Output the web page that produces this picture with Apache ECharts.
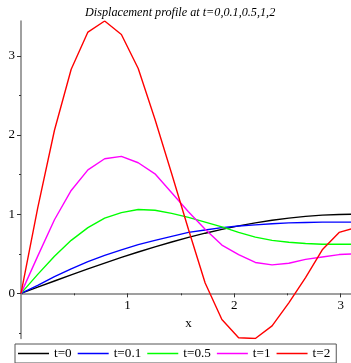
<!DOCTYPE html>
<html>
<head>
<meta charset="utf-8">
<script src="https://cdn.jsdelivr.net/npm/echarts@6/dist/echarts.min.js"></script>
<style>html,body{margin:0;padding:0;background:#fff;}#c{width:351px;height:363px;}</style>
</head>
<body>
<div id="c"></div>
<script>
var xs = [0, 0.157, 0.314, 0.471, 0.628, 0.785, 0.942, 1.100, 1.257, 1.414, 1.571, 1.728, 1.885, 2.042, 2.199, 2.356, 2.513, 2.670, 2.827, 2.985, 3.142];
var seriesNames = ['t=0', 't=0.1', 't=0.5', 't=1', 't=2'];
var t0  = [0, 0.079, 0.156, 0.233, 0.309, 0.383, 0.454, 0.522, 0.588, 0.649, 0.707, 0.760, 0.809, 0.853, 0.891, 0.924, 0.951, 0.972, 0.988, 0.997, 1.0];
var t01 = [0, 0.10, 0.21, 0.31, 0.40, 0.48, 0.55, 0.615, 0.67, 0.72, 0.77, 0.80, 0.83, 0.85, 0.865, 0.88, 0.89, 0.895, 0.90, 0.90, 0.90];
var t05 = [0, 0.24, 0.47, 0.67, 0.83, 0.95, 1.02, 1.06, 1.05, 1.01, 0.96, 0.90, 0.84, 0.77, 0.71, 0.67, 0.645, 0.63, 0.62, 0.62, 0.62];
var t1  = [0, 0.47, 0.93, 1.30, 1.56, 1.70, 1.73, 1.65, 1.51, 1.27, 1.03, 0.81, 0.61, 0.49, 0.39, 0.36, 0.38, 0.43, 0.46, 0.49, 0.50];
var t2  = [0, 1.08, 2.06, 2.83, 3.30, 3.44, 3.27, 2.84, 2.20, 1.51, 0.81, 0.13, -0.33, -0.56, -0.57, -0.41, -0.12, 0.20, 0.55, 0.77, 0.83];
var colors = ['#000000', '#0000ff', '#00ff00', '#ff00ff', '#ff0000'];
var xMajor = [1, 2, 3];
var xMinor = [0.5, 1.5, 2.5];
var yMajor = [0, 1, 2, 3];
var yMinor = [-0.5, 0.5, 1.5, 2.5];
var xMin = 0, xMax = 3.1416, yMin = -0.57, yMax = 3.44;

var allY = [t0, t01, t05, t1, t2];
function pairs(ys) { return xs.map(function (x, i) { return [x, ys[i]]; }); }

var font = 'Liberation Serif';
var H = 363, gTop = 21, gBottom = 24.5;
var plotH = H - gTop - gBottom;
// shift x axes from the grid bottom up to the y=0 line
var zeroOffset = -(plotH * (0 - yMin) / (yMax - yMin));

var chart = echarts.init(document.getElementById('c'), null, {renderer: 'canvas'});
var axisLineStyle = {color: '#808080', width: 1.5};
chart.setOption({
  animation: false,
  backgroundColor: '#ffffff',
  title: {
    text: 'Displacement profile at t=0,0.1,0.5,1,2',
    left: 85, top: 7, padding: 0,
    textStyle: {fontFamily: font, fontStyle: 'italic', fontWeight: 'normal', fontSize: 12.2, color: '#000'}
  },
  legend: {
    data: seriesNames,
    left: 15, top: 344,
    orient: 'horizontal',
    padding: [3, 6, 3, 3],
    itemGap: 6,
    itemWidth: 31, itemHeight: 1.5,
    icon: 'rect',
    borderColor: '#555', borderWidth: 1,
    textStyle: {fontFamily: font, fontSize: 13.2, color: '#000'}
  },
  grid: {left: 21, right: -4.8, top: gTop, bottom: gBottom, containLabel: false, outerBoundsMode: 'none'},
  xAxis: [{
    type: 'value', min: xMin, max: xMax, position: 'bottom', offset: zeroOffset,
    name: 'x', nameLocation: 'middle', nameGap: 19,
    nameTextStyle: {fontFamily: font, fontSize: 13, color: '#000'},
    axisLine: {show: true, onZero: false, lineStyle: axisLineStyle},
    axisTick: {show: true, length: 4, customValues: xMajor, lineStyle: {color: '#333', width: 1}},
    axisLabel: {customValues: xMajor, fontFamily: font, fontSize: 13, color: '#000', margin: 6},
    splitLine: {show: false}
  }, {
    type: 'value', min: xMin, max: xMax, position: 'bottom', offset: zeroOffset,
    axisLine: {show: false, onZero: false},
    axisTick: {show: true, length: 2, customValues: xMinor, lineStyle: {color: '#333', width: 1}},
    axisLabel: {show: false},
    splitLine: {show: false}
  }],
  yAxis: [{
    type: 'value', min: yMin, max: yMax, position: 'left',
    axisLine: {show: true, onZero: false, lineStyle: axisLineStyle},
    axisTick: {show: true, length: 4, customValues: yMajor, lineStyle: {color: '#333', width: 1}},
    axisLabel: {customValues: yMajor, fontFamily: font, fontSize: 13, color: '#000', margin: 6},
    splitLine: {show: false}
  }, {
    type: 'value', min: yMin, max: yMax, position: 'left',
    axisLine: {show: false, onZero: false},
    axisTick: {show: true, length: 2, customValues: yMinor, lineStyle: {color: '#333', width: 1}},
    axisLabel: {show: false},
    splitLine: {show: false}
  }],
  series: seriesNames.map(function (n, i) {
    return {
      name: n, type: 'line', data: pairs(allY[i]),
      xAxisIndex: 0, yAxisIndex: 0,
      symbol: 'none', smooth: false, clip: true,
      lineStyle: {color: colors[i], width: 1.4},
      itemStyle: {color: colors[i]},
      z: 2 + i
    };
  })
});
</script>
</body>
</html>
